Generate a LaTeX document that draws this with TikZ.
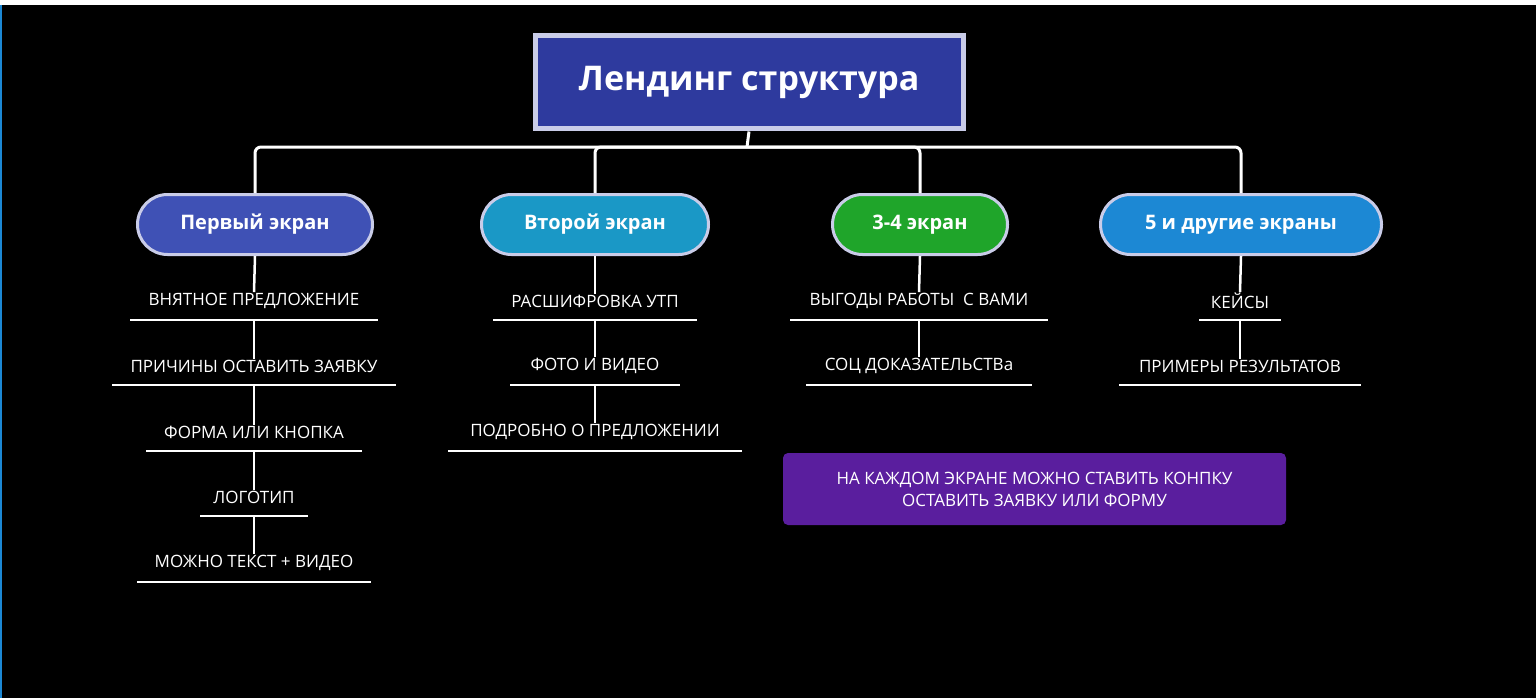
\documentclass[tikz,border=0pt]{standalone}
\usepackage{fontspec}
\setmainfont{Open Sans}
\usetikzlibrary{calc}
\definecolor{titlebg}{HTML}{2E3A9E}
\definecolor{p1}{HTML}{3F51B5}
\definecolor{p2}{HTML}{1A98C6}
\definecolor{p3}{HTML}{1FA52A}
\definecolor{p4}{HTML}{1C88D4}
\definecolor{pur}{HTML}{5A1E9E}
\definecolor{rim}{HTML}{C9CCE8}
\tikzset{
  pill/.style={rounded corners=30pt, draw=rim, line width=3pt, text=white, font=\bfseries\fontsize{20}{24}\selectfont, minimum height=60pt, inner sep=0pt},
  itemtxt/.style={text=white, font=\fontsize{17}{20}\selectfont, inner sep=1pt},
  conn/.style={white, line width=2.5pt},
  bus/.style={white, line width=3pt, rounded corners=6pt},
}
\newcommand\itm[5]{%
  \node[itemtxt] (#1) at (#2,#3) {#5};
  \coordinate (#1-l) at ($(#2,#3)+(-#4,19)$);
  \coordinate (#1-r) at ($(#2,#3)+(#4,19)$);
  \coordinate (#1-m) at ($(#2,#3)+(0,19)$);
  \draw[conn] (#1-l) -- (#1-r);}
\begin{document}
\begin{tikzpicture}[x=1pt,y=-1pt]
\fill[black] (0,0) rectangle (1536,698);
\fill[white] (0,0) rectangle (1536,5);
\fill[p4] (0,5) rectangle (2,698);
\node[draw=rim, line width=5pt, fill=titlebg, text=white, font=\bfseries\fontsize{34}{40}\selectfont, minimum width=428pt, minimum height=93pt, inner sep=0pt] (title) at (749,82.5) {Лендинг структура};
\node[pill, fill=p1, minimum width=235pt] (s1) at (255,224.5) {Первый экран};
\node[pill, fill=p2, minimum width=227pt] (s2) at (595,224.5) {Второй экран};
\node[pill, fill=p3, minimum width=175pt] (s3) at (920,224.5) {3-4 экран};
\node[pill, fill=p4, minimum width=281pt] (s4) at (1241,224.5) {5 и другие экраны};
\coordinate (j) at (747,147);
\draw[conn, line width=3pt] (title.south) -- (j);
\draw[bus] (s1.north) |- (j) -| (s4.north);
\draw[bus] (s2.north) |- (j) -| (s3.north);
% column 1
\itm{a1}{254}{301}{124}{ВНЯТНОЕ ПРЕДЛОЖЕНИЕ}
\itm{a2}{254}{366}{142}{ПРИЧИНЫ ОСТАВИТЬ ЗАЯВКУ}
\itm{a3}{254}{432}{108}{ФОРМА ИЛИ КНОПКА}
\itm{a4}{254}{497}{54}{ЛОГОТИП}
\itm{a5}{254}{563}{117}{МОЖНО ТЕКСТ + ВИДЕО}
\draw[conn] (s1.south) -- (a1.north);
\draw[conn] (a1-m) -- (a2.north);
\draw[conn] (a2-m) -- (a3.north);
\draw[conn] (a3-m) -- (a4.north);
\draw[conn] (a4-m) -- (a5.north);
% column 2
\itm{b1}{595}{301}{102}{РАСШИФРОВКА УТП}
\itm{b2}{595}{366}{85}{ФОТО И ВИДЕО}
\itm{b3}{595}{432}{147}{ПОДРОБНО О ПРЕДЛОЖЕНИИ}
\draw[conn] (s2.south) -- (b1.north);
\draw[conn] (b1-m) -- (b2.north);
\draw[conn] (b2-m) -- (b3.north);
% column 3
\itm{c1}{919}{301}{129}{ВЫГОДЫ РАБОТЫ~~С ВАМИ}
\itm{c2}{919}{366}{113}{СОЦ ДОКАЗАТЕЛЬСТВа}
\draw[conn] (s3.south) -- (c1.north);
\draw[conn] (c1-m) -- (c2.north);
% column 4
\itm{d1}{1240}{301}{41}{КЕЙСЫ}
\itm{d2}{1240}{366}{121}{ПРИМЕРЫ РЕЗУЛЬТАТОВ}
\draw[conn] (s4.south) -- (d1.north);
\draw[conn] (d1-m) -- (d2.north);
% note
\node[fill=pur, rounded corners=5pt, minimum width=503pt, minimum height=72pt, text=white, align=center, font=\fontsize{17}{22}\selectfont, inner sep=0pt] (note) at (1034.5,489) {НА КАЖДОМ ЭКРАНЕ МОЖНО СТАВИТЬ КОНПКУ\\ОСТАВИТЬ ЗАЯВКУ ИЛИ ФОРМУ};
\end{tikzpicture}
\end{document}
